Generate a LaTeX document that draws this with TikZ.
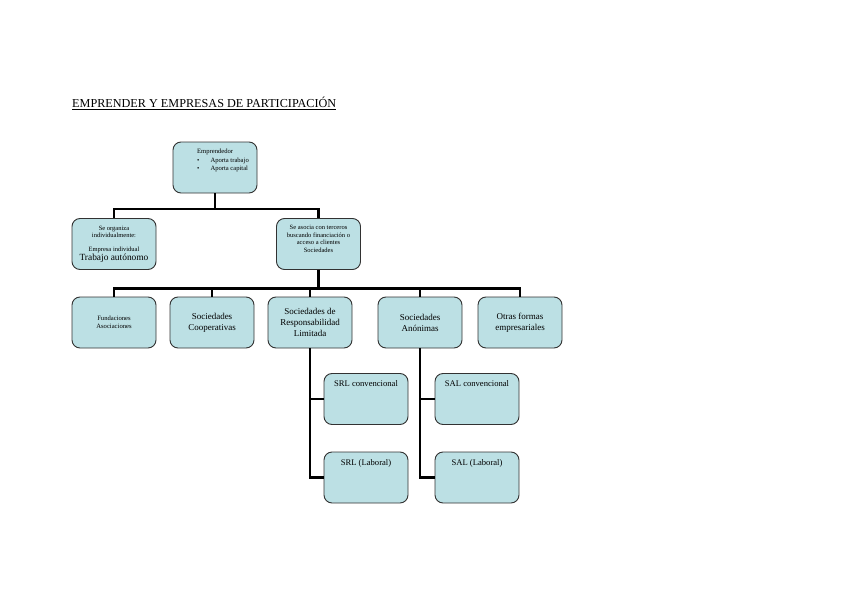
\documentclass[tikz,border=0pt]{standalone}
\usepackage{fontspec}
\setmainfont{Liberation Serif}
\usetikzlibrary{positioning, calc}
\definecolor{boxFill} {RGB}{188,224,228}
\definecolor{boxLine} {RGB}{50,50,50}

\begin{document}
\begin{tikzpicture}[x=1pt, y=-1pt,
    BOX/.style={draw=boxLine, line width=0.9pt, fill=boxFill, rounded corners=8pt, minimum width=84pt, minimum height=51pt, align=center, inner sep=1pt},
    LINK/.style={line width=2.4pt, black}]
    \useasboundingbox (0,0) rectangle (848,599);
    \node[anchor=south west, inner sep=0pt, font=\fontsize{12.2}{14}\selectfont] (title) at (72,110) {\underline{EMPRENDER Y EMPRESAS DE PARTICIPACIÓN}};
    % level 1 and 2
    \node[BOX, label={[anchor=north, yshift=-3pt, xshift=8pt, font=\fontsize{6.6}{8.2}\selectfont, align=left]north:{\begin{tabular}{@{}l@{\hspace{11pt}}l@{}}\multicolumn{2}{@{}l}{Emprendedor}\\ \textbullet & Aporta trabajo\\ \textbullet & Aporta capital\end{tabular}}}] (emp) at (215,167.5) {};
    \node[BOX, font=\fontsize{6.5}{7.4}\selectfont] (ind) at (114,244) {Se organiza\\individualmente:\\[6pt]Empresa individual\\{\fontsize{9.4}{10.5}\selectfont Trabajo autónomo}};
    \node[BOX, label={[anchor=north, yshift=-4pt, font=\fontsize{6.5}{7.4}\selectfont, align=center]north:{Se asocia con terceros\\buscando financiación o\\acceso a clientes\\Sociedades}}] (soc) at (318.5,244) {};
    % level 3
    \node[BOX, font=\fontsize{6.6}{7.6}\selectfont] (fun) at (114,322.5) {Fundaciones\\Asociaciones};
    \node[BOX, font=\fontsize{9}{11}\selectfont] (coop) at (212,322.5) {Sociedades\\Cooperativas};
    \node[BOX, font=\fontsize{9}{11}\selectfont] (srl) at (310,322.5) {Sociedades de\\Responsabilidad\\Limitada};
    \node[BOX, font=\fontsize{9}{11}\selectfont] (sa) at (420,322.5) {Sociedades\\Anónimas};
    \node[BOX, font=\fontsize{9}{11}\selectfont] (otr) at (520,322.5) {Otras formas\\empresariales};
    % level 4
    \tikzset{SUB/.style={BOX, label={[anchor=north, yshift=-4pt, font=\fontsize{8.6}{10}\selectfont]north:{#1}}}}
    \node[SUB={SRL convencional}] (srlc) at (366,399) {};
    \node[SUB={SRL (Laboral)}] (srll) at (366,477.5) {};
    \node[SUB={SAL convencional}] (salc) at (477,399) {};
    \node[SUB={SAL (Laboral)}] (sall) at (477,477.5) {};
    % connectors
    \coordinate (j1) at (215,209);
    \coordinate (j2) at (318.5,288.5);
    \draw[LINK] (emp.south) -- (j1); \draw[LINK] (j1) -| (ind.north); \draw[LINK] (j1) -| (soc.north);
    \draw[LINK] (soc.south) -- (j2); \draw[LINK] (j2) -| (fun.north); \draw[LINK] (j2) -| (otr.north);
    \draw[LINK] (j2) -| (coop.north); \draw[LINK] (j2) -| (srl.north); \draw[LINK] (j2) -| (sa.north);
    \draw[LINK] (srl.south) |- (srlc.west); \draw[LINK] (srl.south) |- (srll.west);
    \draw[LINK] (sa.south) |- (salc.west); \draw[LINK] (sa.south) |- (sall.west);
\end{tikzpicture}
\end{document}
